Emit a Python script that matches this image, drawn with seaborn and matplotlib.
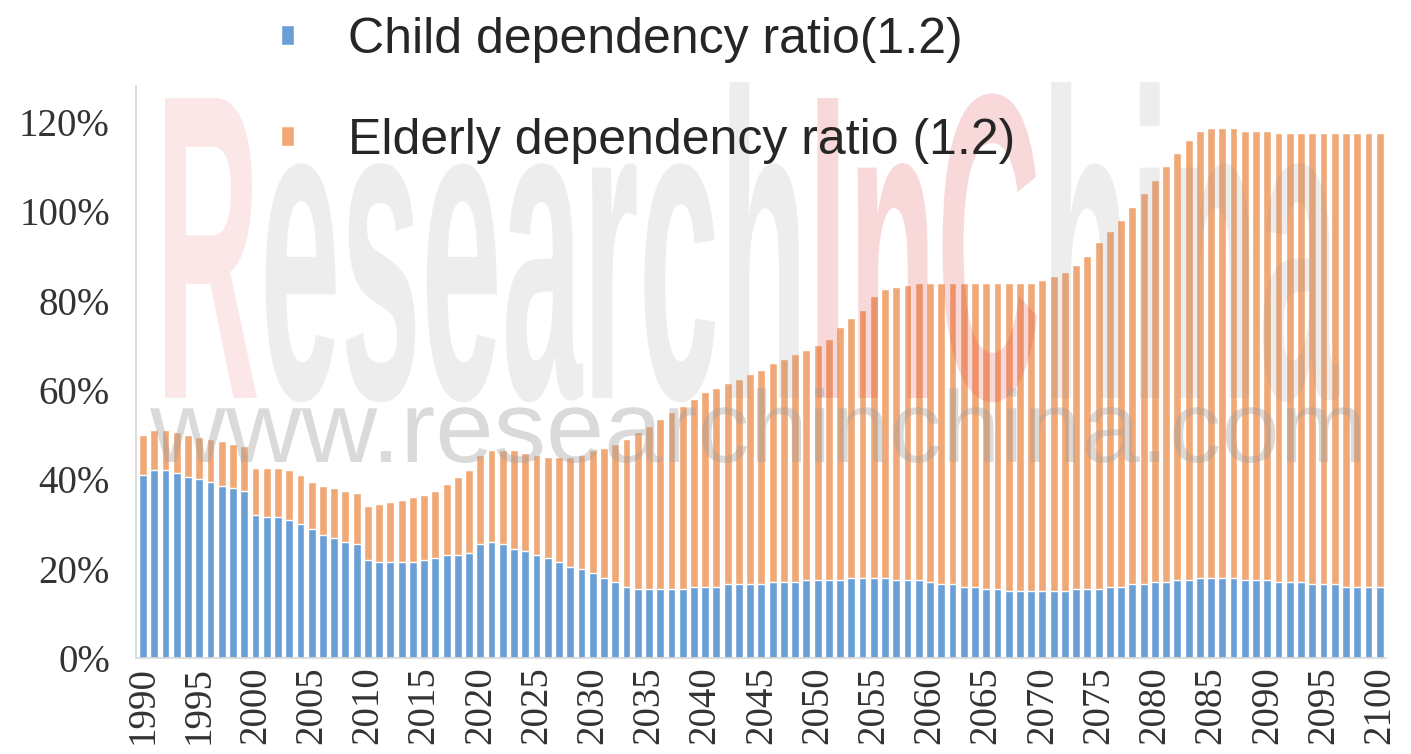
import numpy as np
import pandas as pd
import seaborn as sns
import matplotlib.pyplot as plt
from matplotlib.patches import Patch, PathPatch
from matplotlib.textpath import TextPath, text_to_path
from matplotlib.font_manager import FontProperties
from matplotlib.transforms import Affine2D

## data ##
years = list(range(1990, 2101))

# child dependency ratio (%), 1990..2100
child = [41, 42, 42, 41.5, 40.5, 40, 39.5, 38.5, 38, 37.5,
         32, 31.5, 31.5, 31, 30, 29, 27.5, 27, 26, 25.5,
         22, 21.5, 21.5, 21.5, 21.5, 22, 22.5, 23, 23, 23.5,
         25.5, 26, 25.5, 24.5, 24, 23, 22.5, 21.5, 20.5, 20,
         19, 18, 17, 16, 15.5, 15.5, 15.5, 15.5, 15.5, 16,
         16, 16, 16.5, 16.5, 16.5, 16.5, 17, 17, 17, 17.5,
         17.5, 17.5, 17.5, 18, 18, 18, 18, 17.5, 17.5, 17.5,
         17, 16.5, 16.5, 16, 16, 15.5, 15.5, 15, 15, 15,
         15, 15, 15, 15.5, 15.5, 15.5, 16, 16, 16.5, 16.5,
         17, 17, 17.5, 17.5, 18, 18, 18, 18, 17.5, 17.5,
         17.5, 17, 17, 17, 16.5, 16.5, 16.5, 16, 16, 16, 16]

# total dependency ratio (child + elderly, %), 1990..2100
total = [50, 51, 51, 50.5, 50, 49.5, 49, 48.5, 48, 47.5,
         42.5, 42.5, 42.5, 42, 41, 39.5, 38.5, 38, 37.5, 37,
         34, 34.5, 35, 35.5, 36, 36.5, 37.5, 39, 40.5, 42,
         45.5, 46.5, 46.5, 46.5, 46, 45.5, 45, 45, 45, 45.5,
         46.5, 47, 48, 49, 50.5, 52, 53.5, 55, 56.5, 58,
         59.5, 60.5, 61.5, 62.5, 63.5, 64.5, 66, 67, 68, 69,
         70, 71.5, 74, 76, 78, 81, 82.5, 83, 83.5, 84,
         84, 84, 84, 84, 84, 84, 84, 84, 84, 84,
         84.5, 85.5, 86.5, 88, 90, 93, 95.5, 98, 101, 104,
         107, 110, 113, 116, 118, 118.5, 118.5, 118.5, 118, 118,
         118, 117.5, 117.5, 117.5, 117.5, 117.5, 117.5, 117.5, 117.5, 117.5, 117.5]

labels = ['Child dependency ratio(1.2)', 'Elderly dependency ratio (1.2)']
blue = '#6a9fd6'
orange = '#f1a877'

W, H = 1411, 754
df = pd.DataFrame({'year': years, 'child': child, 'total': total})

sns.set_style('white')
fig = plt.figure(figsize=(W / 100, H / 100), dpi=100)
ax = fig.add_axes([0.0966, 0.127, 0.886, 0.759])

# elderly sits on top of child, so draw total first then child over it
sns.barplot(data=df, x='year', y='total', color=orange, saturation=1,
            width=0.7, ax=ax)
sns.barplot(data=df, x='year', y='child', color=blue, saturation=1,
            width=0.7, ax=ax)

ax.set_xlim(-0.6, len(years) - 0.4)
ax.set_ylim(0, 128)
ax.set_xlabel('')
ax.set_ylabel('')

tick_pos = [i for i, y in enumerate(years) if y % 5 == 0]
ax.set_xticks(tick_pos)
ax.set_xticklabels([str(years[i]) for i in tick_pos], rotation=90,
                   family='Liberation Serif', fontsize=28, color='#333333')
ax.set_yticks(range(0, 121, 20))
ax.set_yticklabels([f'{v}%' for v in range(0, 121, 20)],
                   family='Liberation Serif', fontsize=28, color='#333333')
ax.tick_params(axis='both', length=5, width=1, color='#d8d8d8', pad=1)
ax.tick_params(axis='y', pad=14)
sns.despine(ax=ax, top=True, right=True)
for s in ['left', 'bottom']:
    ax.spines[s].set_color('#d8d8d8')
    ax.spines[s].set_linewidth(1.2)

# legend
handles = [Patch(facecolor=blue), Patch(facecolor=orange)]
fig.legend(handles, labels, loc='upper left', bbox_to_anchor=(281 / W, 1 - 17 / H),
           frameon=False, borderpad=0, borderaxespad=0,
           prop={'family': 'Liberation Sans', 'size': 36},
           handlelength=0.25, handleheight=0.25, handletextpad=1.1,
           labelspacing=1.1)


# watermark, stretched text paths in pixel coords
def stamp(parts, x0, base, width, cap, fp, size=100):
    full = ''.join(t for t, _, _ in parts)
    ext = TextPath((0, 0), full, size=size, prop=fp).get_extents()
    capref = TextPath((0, 0), 'H', size=size, prop=fp).get_extents().height
    sx, sy = width / ext.width, cap / capref
    fsz = FontProperties(family=fp.get_family(), weight=fp.get_weight(), size=size)
    off = 0
    for t, c, a in parts:
        p = TextPath((off, 0), t, size=size, prop=fp)
        tr = (Affine2D().translate(-ext.x0, 0).scale(sx, sy)
              .translate(x0, H - base).scale(1 / W, 1 / H) + fig.transFigure)
        fig.add_artist(PathPatch(p, transform=tr, facecolor=c, edgecolor='none',
                                 alpha=a, zorder=5))
        w, _, _ = text_to_path.get_text_width_height_descent(t, fsz, ismath=False)
        off += w


fp_big = FontProperties(family=['Liberation Sans Narrow', 'Liberation Sans'],
                        weight='bold')
stamp([('R', '#e04040', 0.12), ('esearch', '#909090', 0.16),
       ('InC', '#e04040', 0.2), ('hina', '#909090', 0.16)],
      165, 398, 1175, 300, fp_big)
fp_url = FontProperties(family='Liberation Sans')
stamp([('www.researchinchina.com', '#a0a0a0', 0.38)], 150, 462, 1210, 70, fp_url)

fig.savefig('out.png', dpi=100)
